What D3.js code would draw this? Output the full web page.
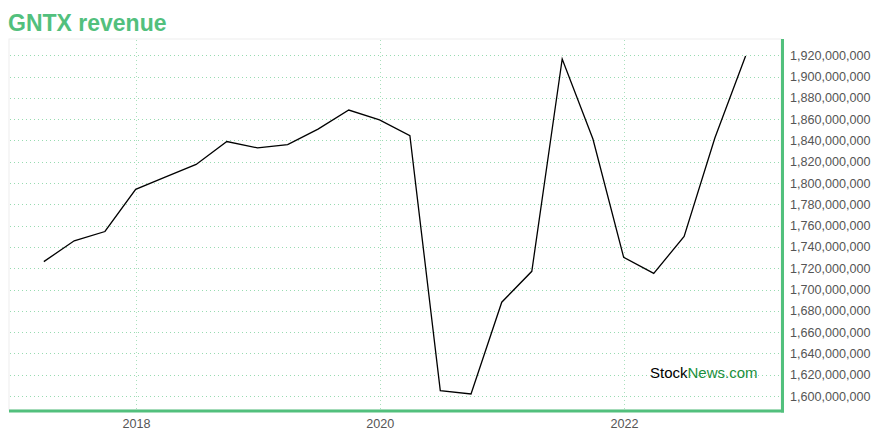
<!DOCTYPE html>
<html><head><meta charset="utf-8">
<script src="https://cdn.jsdelivr.net/npm/d3@7"></script>
<style>body{margin:0;background:#fff}svg{display:block;font-family:"Liberation Sans",Arial,sans-serif}</style>
</head><body><svg id="c" width="880" height="440"></svg>
<script>
const title = "GNTX revenue";
const quarterEnds = ["2017-03-31","2017-06-30","2017-09-30","2017-12-31","2018-03-31","2018-06-30","2018-09-30","2018-12-31","2019-03-31","2019-06-30","2019-09-30","2019-12-31","2020-03-31","2020-06-30","2020-09-30","2020-12-31","2021-03-31","2021-06-30","2021-09-30","2021-12-31","2022-03-31","2022-06-30","2022-09-30","2022-12-31"];
const revenue = [1726200000,1745800000,1754500000,1794100000,1805800000,1817500000,1839000000,1833000000,1836200000,1850700000,1868600000,1859300000,1844600000,1605000000,1601900000,1688100000,1717100000,1916500000,1841400000,1730200000,1715200000,1749800000,1842300000,1919300000];
const yTickValues = [1600000000,1620000000,1640000000,1660000000,1680000000,1700000000,1720000000,1740000000,1760000000,1780000000,1800000000,1820000000,1840000000,1860000000,1880000000,1900000000,1920000000];
const xTickYears = [2018, 2020, 2022];

const parse = d3.timeParse("%Y-%m-%d");
const data = quarterEnds.map((d,i)=>({date: parse(d), value: revenue[i]}));

const svg = d3.select("#c");
const pL = 9, pR = 781, pT = 39, pB = 410;
const green = "#52c07d";

const x = d3.scaleTime().domain([new Date(2018,0,1), new Date(2022,0,1)]).range([136, 624]);
const y = d3.scaleLinear().domain([1600000000, 1920000000]).range([396, 55.3]);

// frame
svg.append("rect").attr("x", pL).attr("y", pT).attr("width", pR-pL).attr("height", pB-pT)
  .attr("fill", "#fff").attr("stroke", "#eeeeee").attr("stroke-width", 1);

// horizontal grid
svg.append("g").selectAll("line").data(yTickValues).join("line")
  .attr("x1", pL+1).attr("x2", pR).attr("y1", d=>Math.round(y(d))+0.5).attr("y2", d=>Math.round(y(d))+0.5)
  .attr("stroke", "#7fd39e").attr("stroke-width", 1).attr("stroke-dasharray", "1,3").attr("opacity", 0.8);

// vertical grid
svg.append("g").selectAll("line").data(xTickYears).join("line")
  .attr("x1", d=>Math.round(x(new Date(d,0,1)))+0.5).attr("x2", d=>Math.round(x(new Date(d,0,1)))+0.5)
  .attr("y1", pT+1).attr("y2", pB)
  .attr("stroke", "#a9e0bd").attr("stroke-width", 1).attr("stroke-dasharray", "1,3");

// line
const line = d3.line().x(d=>x(d.date)).y(d=>y(d.value));
svg.append("path").datum(data).attr("d", line).attr("fill", "none").attr("stroke", "#000").attr("stroke-width", 1.3).attr("stroke-linejoin","miter");

// right axis
const yAxis = d3.axisRight(y).tickValues(yTickValues).tickFormat(d3.format(",")).tickSize(0).tickPadding(9);
const gy = svg.append("g").attr("transform", `translate(${pR},0)`).call(yAxis);
gy.select(".domain").remove();
gy.selectAll("text").attr("fill", "#555").attr("font-size", "12.6px").attr("font-family", '"Liberation Sans",Arial,sans-serif');

// bottom axis
const xAxis = d3.axisBottom(x).tickValues(xTickYears.map(v=>new Date(v,0,1))).tickFormat(d3.timeFormat("%Y")).tickSize(0).tickPadding(9);
const gx = svg.append("g").attr("transform", `translate(0,${pB})`).call(xAxis);
gx.select(".domain").remove();
gx.selectAll("text").attr("fill", "#555").attr("font-size", "12.6px").attr("font-family", '"Liberation Sans",Arial,sans-serif');

// green axis lines
svg.append("line").attr("x1", pR+1.5).attr("x2", pR+1.5).attr("y1", pT).attr("y2", pB+2.5).attr("stroke", green).attr("stroke-width", 3);
svg.append("line").attr("x1", pL).attr("x2", pR+3).attr("y1", pB+1).attr("y2", pB+1).attr("stroke", green).attr("stroke-width", 3);

// title
svg.append("text").attr("x", 8).attr("y", 30.5).text(title)
  .attr("font-size", "23px").attr("font-weight", "bold").attr("fill", green);

// watermark
const wm = svg.append("text").attr("x", 650).attr("y", 378).attr("font-size", "15px");
wm.append("tspan").text("Stock").attr("fill", "#000");
wm.append("tspan").text("News.com").attr("fill", "#1a8f3c");
</script></body></html>
